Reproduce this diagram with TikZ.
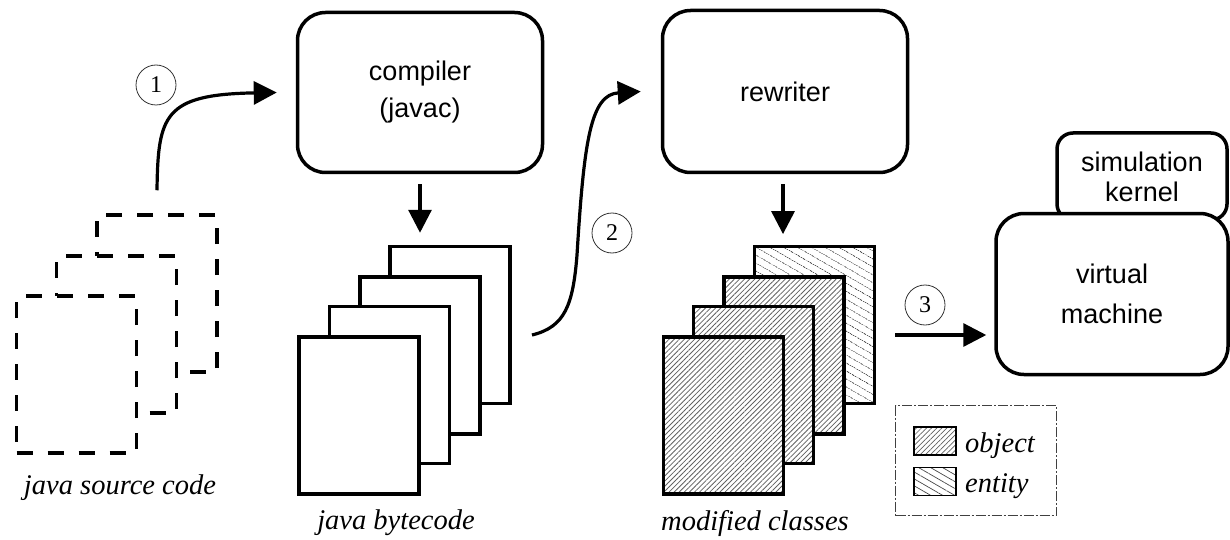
\documentclass[tikz,border=0pt]{standalone}
\usepackage{fontspec}
\setmainfont{Liberation Serif}
\setsansfont{Liberation Sans}
\usetikzlibrary{arrows.meta,patterns.meta}
\begin{document}
\begin{tikzpicture}[x=1pt,y=-1pt,
  page/.style={draw, line width=3.5pt, minimum width=120pt, minimum height=157pt, inner sep=0pt, fill=white},
  srcpage/.style={page, dash pattern=on 16pt off 15pt},
  objpage/.style={draw, line width=3.5pt, minimum width=120pt, minimum height=157pt, inner sep=0pt,
    preaction={fill=white}, pattern={Lines[angle=45,distance=3.6pt,line width=0.8pt]}, pattern color=black!62},
  entpage/.style={draw, line width=3.5pt, minimum width=120pt, minimum height=157pt, inner sep=0pt,
    preaction={fill=white}, pattern={Lines[angle=-30,distance=6.5pt,line width=0.8pt]}, pattern color=black!72},
  proc/.style={draw, line width=3.5pt, rounded corners=28pt, font=\sffamily\fontsize{27}{37}\selectfont,
    align=center, fill=white, inner sep=0pt},
  num/.style={draw=black!80, circle, line width=0.8pt, minimum size=40pt, inner sep=0pt,
    font=\fontsize{24}{24}\selectfont},
  lbl/.style={font=\itshape\fontsize{28.5}{30}\selectfont, inner sep=0pt},
  flow/.style={line width=3.2pt, -{Triangle[length=23pt,width=23pt]}},
  swatch/.style={draw, line width=1.3pt, minimum width=42pt, minimum height=28pt, inner sep=0pt},
]
\useasboundingbox (0,0) rectangle (1230,540);

% java source code (dashed pages)
\node[srcpage] (src3) at (157,293.5) {};
\node[srcpage] (src2) at (116.5,334.5) {};
\node[srcpage] (src1) at (76.5,374.5) {};
\node[lbl] (lsrc) at (120,488) {java source code};

% compiler
\node[proc, minimum width=245pt, minimum height=160pt] (compiler) at (420,92.5) {compiler\\(javac)};

% java bytecode
\node[page] (bc4) at (450,325) {};
\node[page] (bc3) at (420,355.5) {};
\node[page] (bc2) at (389.5,385) {};
\node[page] (bc1) at (359,415.5) {};
\node[lbl] (lbc) at (396,523) {java bytecode};

% rewriter
\node[proc, minimum width=245pt, minimum height=162pt] (rewriter) at (785,91.5) {rewriter};

% modified classes
\node[entpage] (mc4) at (814.5,325) {};
\node[objpage] (mc3) at (784,355.5) {};
\node[objpage] (mc2) at (753.5,385) {};
\node[objpage] (mc1) at (723.5,415.5) {};
\node[lbl] (lmc) at (755,523) {modified classes};

% simulation kernel and virtual machine
\node[proc, rounded corners=16pt, minimum width=170pt, minimum height=87pt,
  font=\sffamily\fontsize{27}{30}\selectfont] (kernel) at (1142,176.5) {simulation\\kernel};
\node[proc, minimum width=232pt, minimum height=161pt, font=\sffamily\fontsize{27}{40}\selectfont]
  (vm) at (1112,294) {virtual\\machine};

% legend
\node[draw=black!75, line width=0.8pt, dash pattern=on 10pt off 2pt on 2pt off 2pt,
  minimum width=161pt, minimum height=110pt, inner sep=0pt] (legend) at (976,460.5) {};
\node[swatch, pattern={Lines[angle=45,distance=3.6pt,line width=0.7pt]}, pattern color=black!62]
  (swobj) at (935,441) {};
\node[swatch, pattern={Lines[angle=-30,distance=6pt,line width=0.7pt]}, pattern color=black!72]
  (swent) at (935,481.5) {};
\node[lbl, anchor=west] (tobj) at (965,446) {object};
\node[lbl, anchor=west] (tent) at (965,486) {entity};

% step numbers
\node[num] (n1) at (156,85) {1};
\node[num] (n2) at (612,233) {2};
\node[num] (n3) at (925,305) {3};

% connectors
\draw[flow] ([yshift=23pt]src3.north) .. controls +(1,-75) and +(-113,2) .. ([xshift=-19pt]compiler.west);

\draw[flow, shorten <=10pt, shorten >=12pt] (compiler) -- (compiler |- bc4.north);

\coordinate (a2s) at (532,335);
\coordinate (a2m) at (577,255);
\draw[flow] (a2s) .. controls +(33,-8) and +(-4,50) .. (a2m)
  .. controls +(7,-115) and +(-50,3) .. ([xshift=-20pt]rewriter.west);

\draw[flow, shorten <=10pt, shorten >=12pt] ([xshift=-2pt]rewriter.south) -- ([xshift=-2pt]rewriter.south |- mc4.north);

\coordinate (a3) at (895,335);
\draw[flow, shorten >=8pt] (a3) -- (a3 -| vm.west);
\end{tikzpicture}
\end{document}
